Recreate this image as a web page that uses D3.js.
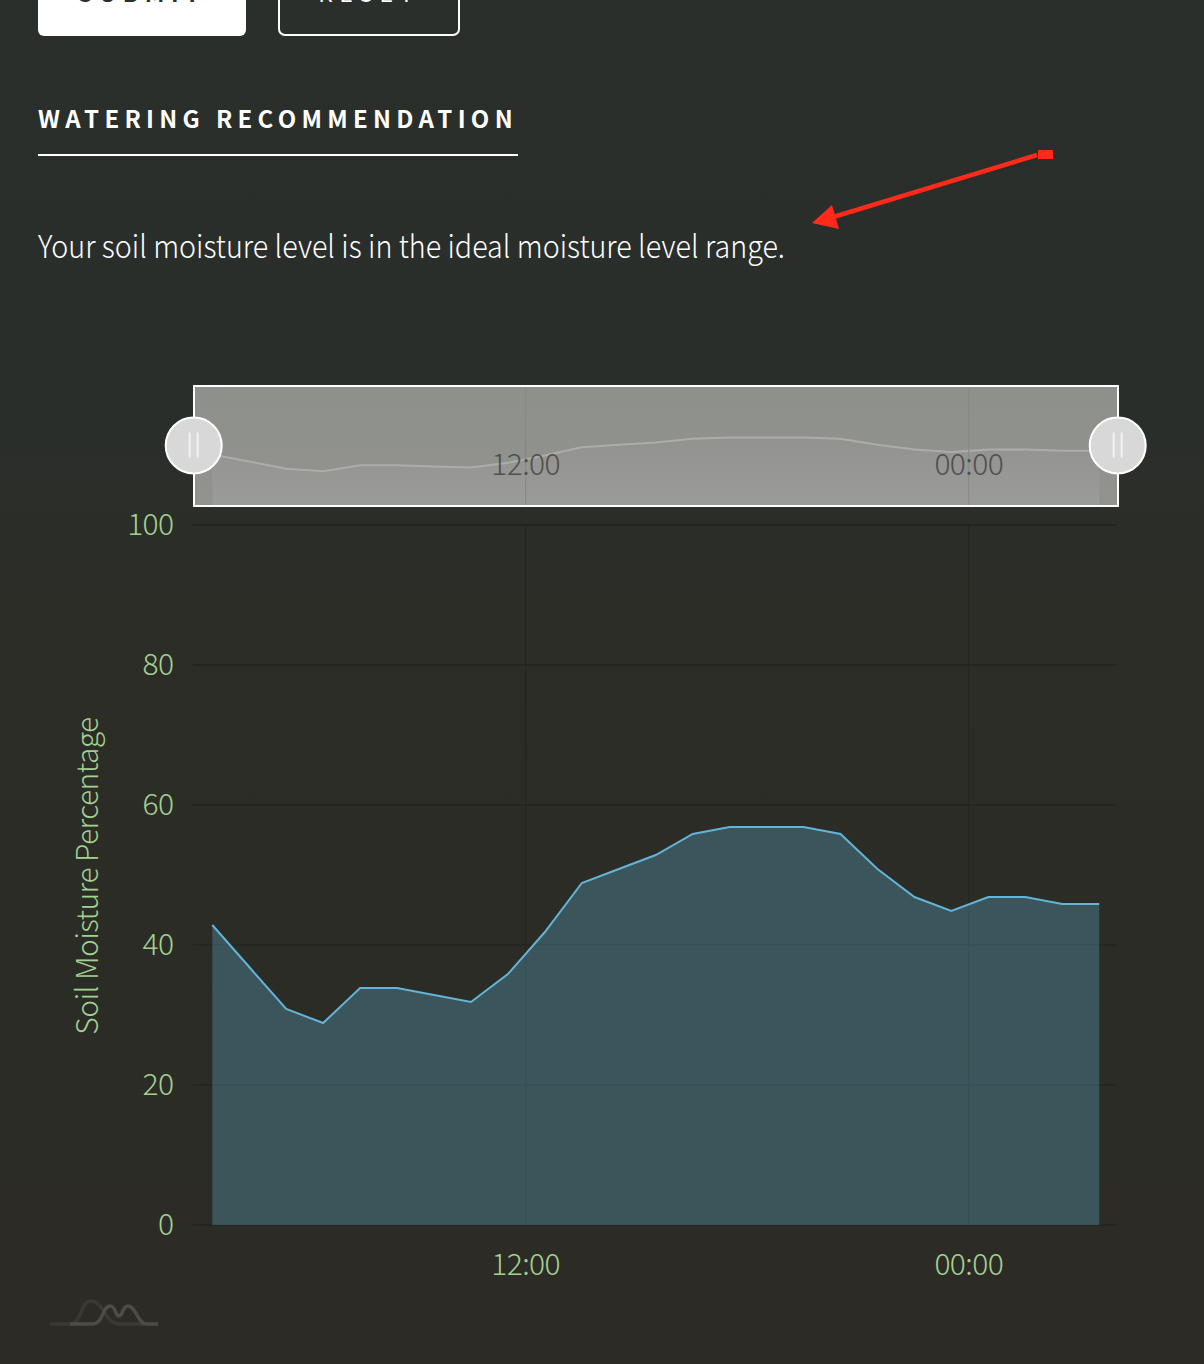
<!DOCTYPE html>
<html>
<head>
<meta charset="utf-8">
<script src="https://d3js.org/d3.v7.min.js"></script>
<style>
  html, body { margin: 0; padding: 0; background: #2b2d29; overflow: hidden; }
  svg { display: block; }
  text { font-family: "Noto Sans CJK SC", "Noto Sans", sans-serif; }
</style>
</head>
<body>
<div id="chart"></div>
<script>
// hourly soil moisture readings
var times = ["03:30","04:30","05:30","06:30","07:30","08:30","09:30","10:30","11:30","12:30","13:30","14:30",
    "15:30","16:30","17:30","18:30","19:30","20:30","21:30","22:30","23:30","00:30","01:30","02:30","03:30"];
var moisture = [43,37,31,29,34,34,33,32,36,42,49,51,53,56,57,57,57,56,51,47,45,47,47,46,46];
var y_ticks = [0,20,40,60,80,100];
var x_tick_hours = [8.48, 20.47];
var x_tick_labels = ["12:00","00:00"];
var y_label = "Soil Moisture Percentage";
var heading = "WATERING RECOMMENDATION";
var message = "Your soil moisture level is in the ideal moisture level range.";

var width = 1204, height = 1364;
var tick_color = "#a3d191";
var svg = d3.select("#chart").append("svg").attr("width", width).attr("height", height);
var defs = svg.append("defs");

// page background
var bg = defs.append("linearGradient").attr("id", "bg").attr("x1", 0).attr("y1", 0).attr("x2", 0).attr("y2", 1);
bg.append("stop").attr("offset", "0%").attr("stop-color", "#2a2f2c");
bg.append("stop").attr("offset", "30%").attr("stop-color", "#2a2e2a");
bg.append("stop").attr("offset", "45%").attr("stop-color", "#2c2d27");
bg.append("stop").attr("offset", "100%").attr("stop-color", "#2c2b26");
svg.append("rect").attr("width", width).attr("height", height).attr("fill", "url(#bg)");

// buttons cut off by the top of the page
svg.append("rect").attr("x", 38).attr("y", -30).attr("width", 208).attr("height", 66).attr("rx", 6).attr("fill", "#fff");
svg.append("rect").attr("x", 279).attr("y", -30).attr("width", 180).attr("height", 65).attr("rx", 6)
    .attr("fill", "none").attr("stroke", "#fff").attr("stroke-width", 2);
svg.append("text").attr("x", 142).attr("y", 2).attr("text-anchor", "middle").attr("font-size", 23)
    .attr("font-weight", 700).attr("letter-spacing", 6.5).attr("fill", "#2b2f2c").text("SUBMIT");
svg.append("text").attr("x", 369).attr("y", 2).attr("text-anchor", "middle").attr("font-size", 23)
    .attr("font-weight", 400).attr("letter-spacing", 6.5).attr("fill", "#fff").text("RESET");

// heading and message
svg.append("text").attr("x", 38).attr("y", 127.5).attr("font-size", 24).attr("font-weight", 700)
    .attr("letter-spacing", 5.3).attr("fill", "#fff").text(heading);
svg.append("rect").attr("x", 38).attr("y", 154).attr("width", 480).attr("height", 2).attr("fill", "#fff");
svg.append("text").attr("x", 38).attr("y", 258).attr("font-size", 31).attr("font-weight", 300)
    .attr("textLength", 747).attr("lengthAdjust", "spacingAndGlyphs")
    .attr("fill", "#fff").text(message);

// red annotation arrow
svg.append("rect").attr("x", 1038).attr("y", 150).attr("width", 15).attr("height", 9).attr("fill", "#ff2a1a");
svg.append("line").attr("x1", 1037).attr("y1", 155).attr("x2", 830).attr("y2", 218)
    .attr("stroke", "#ff2a1a").attr("stroke-width", 4.5);
svg.append("path").attr("d", "M812,223L832,205L839,229Z").attr("fill", "#ff2a1a");

// scales
var x = d3.scaleLinear().domain([0, times.length - 1]).range([212.3, 1099.2]);
var y = d3.scaleLinear().domain([0, 100]).range([1225, 525]);
var y_nav = d3.scaleLinear().domain([0, 100]).range([506, 386]);
var idx = moisture.map(function(d, i) { return i; });

// main grid and axes
var chart = svg.append("g");
chart.append("g").selectAll("line").data(y_ticks).join("line")
    .attr("x1", 193).attr("x2", 1117)
    .attr("y1", d => y(d)).attr("y2", d => y(d))
    .attr("stroke", "#23251f").attr("stroke-width", 1.3);
chart.append("g").selectAll("line").data(x_tick_hours).join("line")
    .attr("x1", d => x(d)).attr("x2", d => x(d))
    .attr("y1", y(100)).attr("y2", y(0))
    .attr("stroke", "#24261f").attr("stroke-width", 1.2);

// the line sits one pixel under its tick in the reference
var area = d3.area().x(i => x(i)).y0(y(0)).y1(i => y(moisture[i]) + 1);
var line = d3.line().x(i => x(i)).y(i => y(moisture[i]) + 1);
chart.append("path").datum(idx).attr("d", area).attr("fill", "#5fb6d8").attr("fill-opacity", 0.3);
chart.append("path").datum(idx).attr("d", line).attr("fill", "none").attr("stroke", "#62b5d9").attr("stroke-width", 2);

chart.append("g").selectAll("text").data(y_ticks).join("text")
    .attr("x", 173.5).attr("y", d => y(d) + 10).attr("text-anchor", "end")
    .attr("font-size", 30).attr("font-weight", 300).attr("letter-spacing", -0.6).attr("fill", tick_color).text(d => d);
chart.append("g").selectAll("text").data(x_tick_hours).join("text")
    .attr("x", d => x(d)).attr("y", 1275).attr("text-anchor", "middle")
    .attr("font-size", 30).attr("font-weight", 300).attr("letter-spacing", -0.6).attr("fill", tick_color)
    .text((d, i) => x_tick_labels[i]);
chart.append("text").attr("transform", "translate(98,876) rotate(-90)").attr("text-anchor", "middle")
    .attr("font-size", 30).attr("font-weight", 300).attr("letter-spacing", -0.6).attr("fill", tick_color).text(y_label);

// range navigator
var nav_bg = defs.append("linearGradient").attr("id", "nav_bg").attr("x1", 0).attr("y1", 0).attr("x2", 0).attr("y2", 1);
nav_bg.append("stop").attr("offset", "0%").attr("stop-color", "#8e908c");
nav_bg.append("stop").attr("offset", "100%").attr("stop-color", "#92938f");
var nav_fill = defs.append("linearGradient").attr("id", "nav_fill").attr("x1", 0).attr("y1", 0).attr("x2", 0).attr("y2", 1);
nav_fill.append("stop").attr("offset", "0%").attr("stop-color", "#929390");
nav_fill.append("stop").attr("offset", "100%").attr("stop-color", "#9b9c99");

var nav = svg.append("g");
nav.append("rect").attr("x", 194).attr("y", 386).attr("width", 924).attr("height", 120).attr("fill", "url(#nav_bg)");
var nav_area = d3.area().x(i => x(i)).y0(y_nav(0)).y1(i => y_nav(moisture[i]));
var nav_line = d3.line().x(i => x(i)).y(i => y_nav(moisture[i]));
nav.append("path").datum(idx).attr("d", nav_area).attr("fill", "url(#nav_fill)");
nav.append("path").datum(idx).attr("d", nav_line).attr("fill", "none").attr("stroke", "#acadaa").attr("stroke-width", 2);
nav.append("g").selectAll("line").data(x_tick_hours).join("line")
    .attr("x1", d => x(d)).attr("x2", d => x(d)).attr("y1", 386).attr("y2", 506)
    .attr("stroke", "#868884").attr("stroke-width", 1);
nav.append("g").selectAll("text").data(x_tick_hours).join("text")
    .attr("x", d => x(d)).attr("y", 475).attr("text-anchor", "middle")
    .attr("font-size", 30).attr("font-weight", 300).attr("letter-spacing", -0.6).attr("fill", "#4f504e")
    .text((d, i) => x_tick_labels[i]);
nav.append("rect").attr("x", 194).attr("y", 386).attr("width", 924).attr("height", 120)
    .attr("fill", "none").attr("stroke", "#fff").attr("stroke-width", 2);

// round handles on both ends of the brush
var handles = nav.append("g").selectAll("g").data([193.7, 1117.7]).join("g")
    .attr("transform", d => "translate(" + d + ",445.5)");
handles.append("circle").attr("r", 28).attr("fill", "#d8d8d8").attr("stroke", "#fff").attr("stroke-width", 2);
handles.append("rect").attr("x", -5).attr("y", -13).attr("width", 2).attr("height", 25).attr("fill", "#f2f2f2");
handles.append("rect").attr("x", 3).attr("y", -13).attr("width", 2).attr("height", 25).attr("fill", "#f2f2f2");

// small logo, bottom left
var logo = svg.append("g").attr("fill", "none").attr("stroke-width", 3.5);
logo.append("path").attr("stroke", "#393a34")
    .attr("d", "M50,1324H70C82,1324 80,1301 91,1301C104,1301 104,1324 120,1324H145");
logo.append("path").attr("stroke", "#4c4d47")
    .attr("d", "M70,1324H92C104,1324 102,1306 110,1306C116,1306 115,1316 119,1316C123,1316 122,1306 128,1306C136,1306 138,1324 146,1324H158");
</script>
</body>
</html>
